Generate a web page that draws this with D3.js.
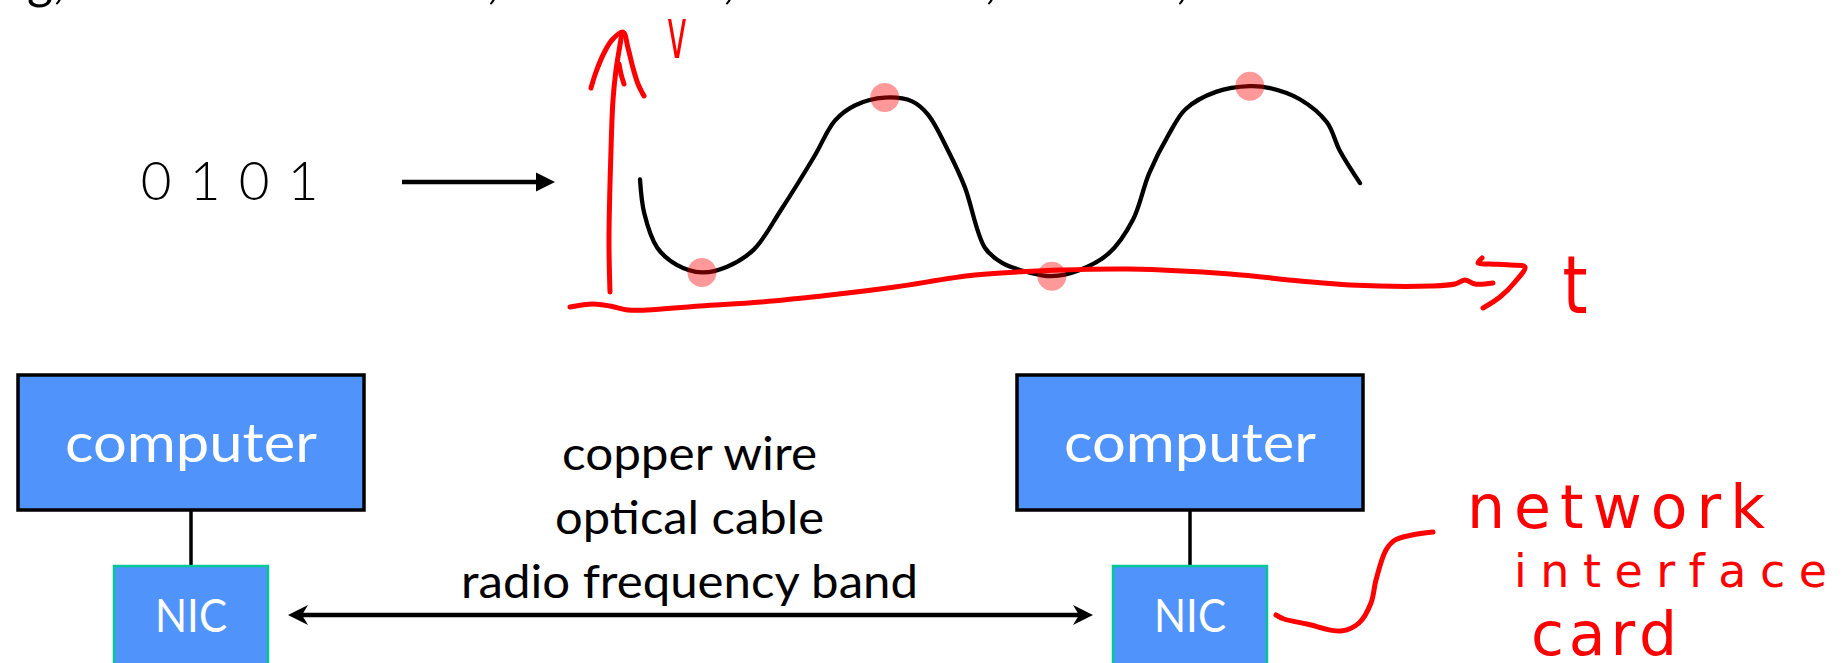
<!DOCTYPE html>
<html>
<head>
<meta charset="utf-8">
<script src="https://cdn.jsdelivr.net/npm/d3@7"></script>
<style>
html,body{margin:0;padding:0;background:#fff;overflow:hidden;}
</style>
</head>
<body>
<svg id="slide" width="1842" height="663"></svg>
<script>
// ---- data ----
const bits=["0","1","0","1"];

// signal samples (t: 0..100, v: 0..1)
const wave_t=[0,0.6,2.4,5.1,8.6,12.1,15.8,19.6,24.2,27.1,29.9,34.0,37.8,40.0,42.8,45.1,47.9,50.3,54.0,57.2,60.9,65.1,68.5,70.7,73.5,75.8,80.0,84.7,87.5,91.7,95.4,97.2,100];
const wave_v=[0.53,0.35,0.17,0.08,0.04,0.07,0.16,0.37,0.65,0.84,0.92,0.96,0.94,0.87,0.68,0.49,0.17,0.09,0.04,0.02,0.05,0.14,0.32,0.56,0.77,0.90,0.99,1.02,1.01,0.95,0.83,0.68,0.51];

// one sample point per bit
const bit_t=[8.6,34.0,57.2,84.7];
const bit_v=[0.04,0.96,0.02,1.02];

const host_labels=["computer","computer"];
const nic_labels=["NIC","NIC"];
const media_labels=["copper wire","optical cable","radio frequency band"];
const note_lines=["network","interface","card"];
const axis_labels=["v","t"];
// last line of the text above, only its bottom is on screen
const cut_parts=["g,",",",",",",",","];

// ---- hand drawn ink (pen strokes) ----
const ink_v_axis=[[610,292],[609,240],[611,150],[613,100],[616,70],[620,45],[622,33]];
const ink_v_head=[[591,88],[596,72],[604,53],[612,40],[623,32],[628,48],[633,68],[638,84],[644,96]];
const ink_v_double=[[619,64],[621,74],[624,84]];
const ink_t_axis=[[570,307],[593,304],[610,306],[628,310],[647,310],[700,306],[761,302],[830,295],[895,287],[975,275],[1062,270],[1129,269],[1230,274],[1300,281],[1350,285],[1431,286],[1455,284],[1465,280],[1475,284],[1493,283]];
const ink_t_head=[[1482,258],[1478,263],[1490,264],[1510,265],[1525,267],[1515,282],[1500,297],[1483,308]];
const ink_pointer=[[1276,615],[1284,619],[1307,624],[1341,631],[1359,623],[1371,603],[1376,580],[1386,550],[1395,540],[1412,535],[1433,532]];

function draw_slide(){
    const svg=d3.select("#slide");
    svg.selectAll("*").remove();

    svg.append("rect")
        .attr("width",1842)
        .attr("height",663)
        .attr("fill","#ffffff");

    const body_font="Lato, 'Open Sans', 'Noto Sans', sans-serif";

    // bottom of the previous text line
    const cut_x=[27,487,723,985,1176];
    cut_parts.forEach((p,i)=>{
        svg.append("text")
            .attr("x",cut_x[i])
            .attr("y",-2)
            .attr("font-family",body_font)
            .attr("font-size",50)
            .attr("fill","#000")
            .text(p);
    });

    // bits
    const bit_x=d3.scalePoint().domain(d3.range(bits.length)).range([156,303]);
    bits.forEach((b,i)=>{
        svg.append("text")
            .attr("x",bit_x(i))
            .attr("y",200)
            .attr("text-anchor","middle")
            .attr("font-family","Lato, 'DejaVu Sans', sans-serif")
            .attr("font-weight",300)
            .attr("font-size",53)
            .attr("fill","#000")
            .text(b);
    });

    // arrow bits -> signal
    svg.append("line")
        .attr("x1",402).attr("y1",182)
        .attr("x2",538).attr("y2",182)
        .attr("stroke","#000")
        .attr("stroke-width",4.5);
    svg.append("path")
        .attr("d","M536,172.5 L555,182 L536,191.5 Z")
        .attr("fill","#000");

    // signal
    const x=d3.scaleLinear().domain([0,100]).range([640,1360]);
    const y=d3.scaleLinear().domain([0,1]).range([280,90]);
    const wave_line=d3.line()
        .x(d=>x(d[0]))
        .y(d=>y(d[1]))
        .curve(d3.curveCatmullRom.alpha(0.5));
    svg.append("path")
        .attr("d",wave_line(d3.zip(wave_t,wave_v)))
        .attr("fill","none")
        .attr("stroke","#000")
        .attr("stroke-width",4.3)
        .attr("stroke-linecap","round");

    // sample dots
    svg.selectAll("circle.sample")
        .data(d3.zip(bit_t,bit_v))
        .join("circle")
        .attr("class","sample")
        .attr("cx",d=>x(d[0]))
        .attr("cy",d=>y(d[1]))
        .attr("r",14.5)
        .attr("fill","#ff0000")
        .attr("fill-opacity",0.4);

    // red pen: axes
    const pen=d3.line().curve(d3.curveCatmullRom.alpha(0.5));
    const ink=[ink_v_axis,ink_v_head,ink_v_double,ink_t_axis,ink_t_head,ink_pointer];
    ink.forEach(s=>{
        svg.append("path")
            .attr("d",pen(s))
            .attr("fill","none")
            .attr("stroke","#ff0000")
            .attr("stroke-width",5)
            .attr("stroke-linecap","round")
            .attr("stroke-linejoin","round");
    });

    const pen_font="'DejaVu Sans', sans-serif";
    // axis labels
    svg.append("text")
        .attr("transform","translate(677,58) scale(0.8,1.7)")
        .attr("text-anchor","middle")
        .attr("font-family",pen_font)
        .attr("font-size",42)
        .attr("fill","#ff0000")
        .text(axis_labels[0]);
    svg.append("text")
        .attr("transform","translate(1575,313) scale(1,1.25)")
        .attr("text-anchor","middle")
        .attr("font-family",pen_font)
        .attr("font-size",64)
        .attr("fill","#ff0000")
        .text(axis_labels[1]);

    // hosts
    const host_x=d3.scalePoint().domain(d3.range(host_labels.length)).range([191,1190]);
    host_labels.forEach((label,i)=>{
        const cx=host_x(i);

        // link computer - NIC
        svg.append("line")
            .attr("x1",cx).attr("y1",509)
            .attr("x2",cx).attr("y2",567)
            .attr("stroke","#000")
            .attr("stroke-width",3.5);

        svg.append("rect")
            .attr("x",cx-173)
            .attr("y",375)
            .attr("width",346)
            .attr("height",135)
            .attr("fill","#4f93fb")
            .attr("stroke","#000")
            .attr("stroke-width",3.5);
        svg.append("text")
            .attr("x",cx)
            .attr("y",462)
            .attr("text-anchor","middle")
            .attr("font-family",body_font)
            .attr("font-size",55)
            .attr("fill","#fff")
            .attr("textLength",252)
            .attr("lengthAdjust","spacingAndGlyphs")
            .text(label);

        svg.append("rect")
            .attr("x",cx-77)
            .attr("y",566)
            .attr("width",154)
            .attr("height",130)
            .attr("fill","#4f93fb")
            .attr("stroke","#00c896")
            .attr("stroke-width",2.5);
        svg.append("text")
            .attr("x",cx)
            .attr("y",632)
            .attr("text-anchor","middle")
            .attr("font-family",body_font)
            .attr("font-size",46)
            .attr("fill","#fff")
            .attr("textLength",72)
            .attr("lengthAdjust","spacingAndGlyphs")
            .text(nic_labels[i]);
    });

    // media between NICs
    const media_y=d3.scalePoint().domain(media_labels).range([470,598]);
    const media_w=[255,269,457];
    media_labels.forEach((m,i)=>{
        svg.append("text")
            .attr("x",689.5)
            .attr("y",media_y(m))
            .attr("text-anchor","middle")
            .attr("font-family",body_font)
            .attr("font-size",46)
            .attr("fill","#000")
            .attr("textLength",media_w[i])
            .attr("lengthAdjust","spacingAndGlyphs")
            .text(m);
    });

    // double arrow
    svg.append("line")
        .attr("x1",300).attr("y1",615)
        .attr("x2",1081).attr("y2",615)
        .attr("stroke","#000")
        .attr("stroke-width",4.5);
    svg.append("path")
        .attr("d","M288,615 L308,605 L302,615 L308,625 Z")
        .attr("fill","#000");
    svg.append("path")
        .attr("d","M1093,615 L1073,605 L1079,615 L1073,625 Z")
        .attr("fill","#000");

    // handwritten note
    const note_x=[1467,1514,1531];
    const note_y=[528,587,655];
    const note_size=[60,46,60];
    const note_w=[298,313,146];
    note_lines.forEach((n,i)=>{
        svg.append("text")
            .attr("x",note_x[i])
            .attr("y",note_y[i])
            .attr("font-family",pen_font)
            .attr("font-size",note_size[i])
            .attr("fill","#ff0000")
            .attr("textLength",note_w[i])
            .attr("lengthAdjust","spacing")
            .text(n);
    });
}

draw_slide();
</script>
</body>
</html>
